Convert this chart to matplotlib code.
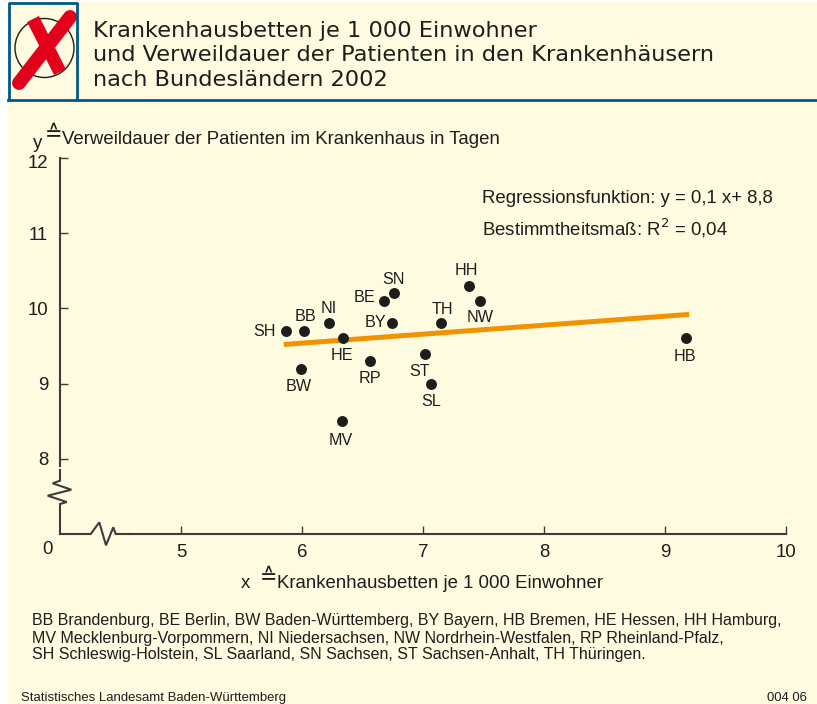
import matplotlib
matplotlib.use('Agg')
import matplotlib.pyplot as plt
from matplotlib.patches import Rectangle, Circle
from matplotlib.transforms import ScaledTranslation

plt.rcParams['font.family'] = ['Liberation Sans', 'DejaVu Sans']

# Daten
laender = ['SH', 'BB', 'NI', 'HE', 'BW', 'MV', 'RP', 'BE', 'SN', 'BY', 'TH', 'ST', 'SL', 'HH', 'NW', 'HB']
betten = [5.87, 6.02, 6.22, 6.34, 5.99, 6.33, 6.56, 6.68, 6.76, 6.74, 7.15, 7.02, 7.07, 7.38, 7.47, 9.17]
verweildauer = [9.7, 9.7, 9.8, 9.6, 9.2, 8.5, 9.3, 10.1, 10.2, 9.8, 9.8, 9.4, 9.0, 10.3, 10.1, 9.6]
# Versatz der Beschriftung in Pixeln
label_dx = [-22, 1, 0, -1, -2, -1, 0, -20, 0, -16, 1, -6, 0, -3, 0, -1]
label_dy = [1, -14, -15, 17, 18, 19, 17, -3, -14, -1, -14, 18, 18, -15, 17, 18]

linie_x = [5.85, 9.2]
linie_y = [9.52, 9.92]

x_ticks = [5, 6, 7, 8, 9, 10]
y_ticks = [8, 9, 10, 11, 12]

titel = ['Krankenhausbetten je 1 000 Einwohner',
         'und Verweildauer der Patienten in den Krankenhäusern',
         'nach Bundesländern 2002']
fussnote = ['BB Brandenburg, BE Berlin, BW Baden-Württemberg, BY Bayern, HB Bremen, HE Hessen, HH Hamburg,',
            'MV Mecklenburg-Vorpommern, NI Niedersachsen, NW Nordrhein-Westfalen, RP Rheinland-Pfalz,',
            'SH Schleswig-Holstein, SL Saarland, SN Sachsen, ST Sachsen-Anhalt, TH Thüringen.']

CREME = '#FFFBE1'
BLAU = '#00578C'
ROT = '#E2001A'
ORANGE = '#F39200'
SCHRIFT = '#1D1D1B'
ACHSE = '#3C3C3A'

W, H = 817, 704
fig = plt.figure(figsize=(W / 100, H / 100), dpi=100, facecolor='white')

# Hintergrund-Ebene in Pixelkoordinaten
bg = fig.add_axes([0, 0, 1, 1])
bg.set_xlim(0, W)
bg.set_ylim(H, 0)
bg.axis('off')
bg.add_patch(Rectangle((8, 2), W - 8, H - 2, fc=CREME, ec='none'))

# Kopf mit Symbol
bg.add_patch(Circle((44.5, 48), 29.5, fc='none', ec=SCHRIFT, lw=1))
bg.plot([33, 60], [19, 72], color=ROT, lw=9.5, solid_capstyle='butt')
bg.plot([70, 19], [17, 83], color=ROT, lw=10, solid_capstyle='round')
bg.plot([9.5, 9.5, 77.5, 77.5], [100, 2.5, 2.5, 100], color=BLAU, lw=2)
bg.plot([8, W], [100, 100], color=BLAU, lw=2)

for zeile, y in zip(titel, [31, 55, 80]):
    bg.text(93, y, zeile, fontsize=16.2, family='DejaVu Sans', color=SCHRIFT, ha='left', va='center')

# Achsenbeschriftungen
bg.text(33, 144, 'y', fontsize=13.4, color=SCHRIFT, va='center')
bg.text(45, 134, '\u2259', fontsize=15, family='DejaVu Sans', color=SCHRIFT, va='center')
bg.text(62, 139, 'Verweildauer der Patienten im Krankenhaus in Tagen', fontsize=13.4, color=SCHRIFT, va='center')
bg.text(241, 584, 'x', fontsize=13.4, color=SCHRIFT, va='center')
bg.text(260, 577, '\u2259', fontsize=15, family='DejaVu Sans', color=SCHRIFT, va='center')
bg.text(277, 583, 'Krankenhausbetten je 1 000 Einwohner', fontsize=13.4, color=SCHRIFT, va='center')

# Achsenbruch
bg.plot([60, 60, 66.7, 47.7, 71.3, 52.7, 60, 60], [534, 504, 502, 495.7, 489.7, 483.3, 480.7, 470],
        color=ACHSE, lw=1.5, solid_joinstyle='miter')
bg.plot([60, 90.7, 99.3, 106, 113.3, 115.7, 130], [534, 534, 522.3, 545.3, 527.3, 534, 534],
        color=ACHSE, lw=1.5, solid_joinstyle='miter')
bg.text(48, 550, '0', fontsize=13.4, color=SCHRIFT, ha='center', va='center')

# Fussnoten
for zeile, y in zip(fussnote, [621, 638, 654]):
    bg.text(32, y, zeile, fontsize=11.55, color=SCHRIFT, va='center')
bg.text(21, 698, 'Statistisches Landesamt Baden-Württemberg', fontsize=9.45, color=SCHRIFT, va='center')
bg.text(807, 698, '004 06', fontsize=9.45, color=SCHRIFT, ha='right', va='center')

# Diagramm
ax = fig.add_axes([60 / W, 1 - 534 / H, 726 / W, 376 / H])
ax.patch.set_visible(False)
ax.set_xlim(4, 10)
ax.set_ylim(7, 12)

ax.plot(linie_x, linie_y, color=ORANGE, lw=3.6, solid_capstyle='butt', zorder=2)
ax.scatter(betten, verweildauer, s=62, color=SCHRIFT, linewidths=0, zorder=3)
for name, xv, yv, dx, dy in zip(laender, betten, verweildauer, label_dx, label_dy):
    ax.annotate(name, (xv, yv), xytext=(dx * 0.72, -dy * 0.72), textcoords='offset points',
                fontsize=11.6, color=SCHRIFT, ha='center', va='center', zorder=4)

ax.spines['top'].set_visible(False)
ax.spines['right'].set_visible(False)
ax.spines['left'].set_bounds(7.9, 12)
ax.spines['bottom'].set_bounds(4.55, 10)
ax.spines['left'].set_color(ACHSE)
ax.spines['bottom'].set_color(ACHSE)
ax.spines['left'].set_linewidth(1.5)
ax.spines['bottom'].set_linewidth(1.5)
ax.set_xticks(x_ticks)
ax.set_yticks(y_ticks)
ax.tick_params(axis='both', direction='in', length=5.5, width=1, color=ACHSE, labelsize=13.4, labelcolor=SCHRIFT)
ax.tick_params(axis='x', pad=7)
ax.tick_params(axis='y', pad=8.5)
# die 12 sitzt im Original etwas tiefer
oben = ax.get_yticklabels()[-1]
oben.set_transform(oben.get_transform() + ScaledTranslation(0, -3 / 100, fig.dpi_scale_trans))

ax.text(0.581, 0.891, 'Regressionsfunktion: y = 0,1 x+ 8,8', transform=ax.transAxes, fontsize=13.4, color=SCHRIFT, va='center')
ax.text(0.581, 0.812, 'Bestimmtheitsmaß: R$^{2}$ = 0,04', transform=ax.transAxes, fontsize=13.4, color=SCHRIFT, va='center',
        math_fontfamily='custom')

fig.savefig('out.png', dpi=100, facecolor=fig.get_facecolor())
